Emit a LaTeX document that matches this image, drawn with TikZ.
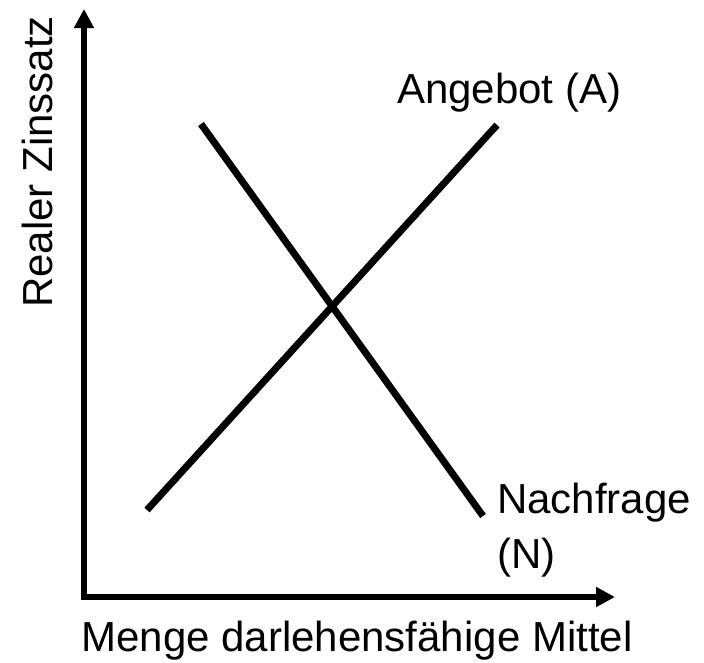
\documentclass[tikz,border=0pt]{standalone}
\usepackage{fontspec}
\setmainfont{Liberation Sans}
\usetikzlibrary{arrows.meta}
\begin{document}
\begin{tikzpicture}[x=1pt,y=-1pt,
  axis/.style={line width=5.5pt,line join=miter,{Triangle[length=19pt,width=19pt]}-{Triangle[length=19pt,width=19pt]}},
  curve/.style={line width=7pt},
  lbl/.style={inner sep=0pt,font=\fontsize{42}{50}\selectfont}]
\useasboundingbox (0,0) rectangle (704,662);
\coordinate (ytip) at (84,9);
\coordinate (origin) at (84,597);
\coordinate (xtip) at (615,597);
\draw[axis] (ytip) -- (origin) -- (xtip);
\coordinate (a1) at (147,510);
\coordinate (a2) at (497,125);
\coordinate (n1) at (201,124);
\coordinate (n2) at (483,516);
\draw[curve] (a1) -- (a2);
\draw[curve] (n1) -- (n2);
\node[lbl,anchor=base west] (angebot) at (397,103) {Angebot (A)};
\node[lbl,anchor=base west] (nachfrage) at (497,513) {Nachfrage};
\node[lbl,anchor=base west] (nachN) at (497,568) {(N)};
\node[lbl,anchor=base] (xlabel) at (357,651) {Menge darlehensfähige Mittel};
\node[lbl,anchor=base,rotate=90] (ylabel) at (52,162) {Realer Zinssatz};
\end{tikzpicture}
\end{document}
